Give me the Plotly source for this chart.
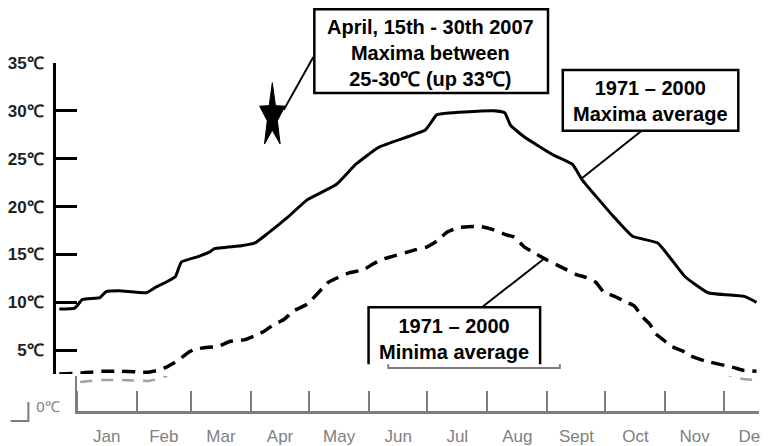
import plotly.graph_objects as go
import math

# ---------------- data ----------------
months = ["Jan", "Feb", "Mar", "Apr", "May", "Jun", "Jul", "Aug", "Sept", "Oct", "Nov", "Dec"]
month_start_day = [0, 31, 59, 90, 120, 151, 181, 212, 243, 273, 304, 334]
month_len = [31, 28, 31, 30, 31, 30, 31, 31, 30, 31, 30, 31]

y_ticks = [5, 10, 15, 20, 25, 30, 35]
y_ticktext = ["5℃", "10℃", "15℃", "20℃", "25℃", "30℃", "35℃"]

# 1971-2000 maxima average (day of year, deg C)
max_day = [-9, -1, 3, 12, 15, 22, 36, 41, 47, 51, 54, 63, 69, 71, 85, 92, 98, 109, 119, 134,
           144, 156, 180, 183, 186, 215, 221, 224, 231, 246, 256, 261, 277, 287, 300, 307, 314,
           326, 345, 351]
max_val = [9.3, 9.4, 10.3, 10.5, 11.1, 11.2, 11.0, 11.6, 12.2, 12.7, 14.2, 14.8, 15.3, 15.6,
           15.9, 16.2, 17.1, 18.9, 20.7, 22.3, 24.4, 26.2, 28.0, 28.8, 29.6, 30.0, 29.8, 28.5,
           27.3, 25.4, 24.4, 22.8, 19.0, 16.9, 16.2, 14.5, 12.7, 11.0, 10.6, 10.0]

# 1971-2000 minima average (day of year, deg C)
min_day = [-9, 2, 13, 22, 37, 42, 46, 52, 58, 61, 68, 73, 79, 87, 92, 97, 102, 107, 112, 119,
           130, 135, 141, 148, 153, 158, 163, 170, 175, 181, 186, 191, 197, 202, 209, 215, 221,
           226, 231, 236, 243, 251, 258, 263, 268, 272, 278, 283, 288, 292, 296, 299, 304, 307,
           313, 317, 324, 339, 344, 351]
min_val = [2.5, 2.6, 2.8, 2.8, 2.7, 2.9, 3.2, 3.9, 4.8, 5.1, 5.3, 5.4, 5.9, 6.1, 6.5, 7.0, 7.7,
           8.2, 9.1, 9.8, 12.1, 12.6, 13.1, 13.4, 14.0, 14.5, 14.8, 15.2, 15.5, 15.8, 16.4, 17.3,
           17.8, 17.9, 17.9, 17.6, 17.1, 16.8, 15.8, 15.2, 14.4, 13.6, 12.9, 12.6, 12.1, 11.1,
           10.6, 10.1, 9.6, 8.5, 7.7, 6.7, 5.9, 5.4, 4.9, 4.4, 3.9, 3.2, 2.9, 2.8]

# April 2007 event marker
star_day = 101
star_val = 29.4

box1_text = "April, 15th - 30th 2007<br>Maxima between<br>25-30℃ (up 33℃)"
box2_text = "1971 – 2000<br>Maxima average"
box3_text = "1971 – 2000<br>Minima average"

# ---------------- layout helpers ----------------
OFF = 8                     # default page body margin
W, H = 769 - OFF, 446 - OFF
ML, MR, MT, MB = 56 - OFF, 0, 63 - OFF, H - (412 - OFF)
PW, PH = W - ML - MR, H - MT - MB
X_RANGE = [-10.7, 352.3]
Y_RANGE = [2.5, 35]
GREY = "#7d7d7d"
FONT = "Liberation Sans, Arial, sans-serif"

def px(x):   # screen pixel -> paper
    return (x - OFF - ML) / PW

def py(y):
    return (H - MB - (y - OFF)) / PH

day_per_px = (X_RANGE[1] - X_RANGE[0]) / PW
deg_per_px = (Y_RANGE[1] - Y_RANGE[0]) / (PH * (1 - py(375)))

fig = go.Figure()

fig.add_trace(go.Scatter(x=max_day, y=max_val, mode="lines",
                         line=dict(color="black", width=3, shape="spline", smoothing=0.4),
                         xaxis="x", yaxis="y", hoverinfo="skip"))
fig.add_trace(go.Scatter(x=min_day, y=min_val, mode="lines",
                         line=dict(color="black", width=3.5, dash="13px,8px",
                                   shape="spline", smoothing=0.4),
                         xaxis="x", yaxis="y", hoverinfo="skip"))
# faded continuation in the lower strip
fig.add_trace(go.Scatter(x=min_day, y=min_val, mode="lines",
                         line=dict(color="#a0a0a0", width=2.5, dash="12px,9px"),
                         xaxis="x2", yaxis="y2", hoverinfo="skip"))

# star polygon (narrow five-pointed star)
sx, sy = [], []
Rx, Ry, inner = 13.5, 34.0, 0.4
for k in range(11):
    ang = math.pi / 2 + k * math.pi / 5
    r = 1.0 if k % 2 == 0 else inner
    sx.append(star_day + r * Rx * math.cos(ang) * day_per_px)
    sy.append(star_val + r * Ry * math.sin(ang) * deg_per_px)
fig.add_trace(go.Scatter(x=sx, y=sy, mode="lines", fill="toself", fillcolor="black",
                         line=dict(color="black", width=1), xaxis="x", yaxis="y",
                         hoverinfo="skip"))

shapes = []
def rect(x0, y0, x1, y1):
    shapes.append(dict(type="rect", xref="paper", yref="paper", x0=px(x0), x1=px(x1),
                       y0=py(y1), y1=py(y0), line=dict(color="black", width=2.5),
                       fillcolor="white", layer="above"))

def path(points, color="black", width=2.0):
    d = "M " + " L ".join(f"{px(a):.5f},{py(b):.5f}" for a, b in points)
    shapes.append(dict(type="path", xref="paper", yref="paper", path=d,
                       line=dict(color=color, width=width)))

rect(318, 9, 555, 93)
rect(570, 70, 748, 131)
path([(373, 365), (373, 308), (547, 308), (547, 365)], width=2.5)
path([(393, 365), (393, 369), (567, 369), (567, 365)], color=GREY, width=2)
path([(287, 110), (317, 57)])
path([(650, 131), (590, 178)])
path([(488, 308), (550, 260)])
path([(10, 422), (28, 422), (28, 403)], color=GREY, width=2)

annotations = [
    dict(x=px(436), y=py(53), text=box1_text),
    dict(x=px(659), y=py(101), text=box2_text),
    dict(x=px(460), y=py(340), text=box3_text),
]
for a in annotations:
    a.update(xref="paper", yref="paper", showarrow=False, xanchor="center", yanchor="middle",
             font=dict(family=FONT, size=20, color="black", weight="bold"), align="center")

mid_days = [s + l / 2 for s, l in zip(month_start_day, month_len)]

fig.update_layout(
    width=W, height=H,
    margin=dict(l=ML, r=MR, t=MT, b=MB),
    paper_bgcolor="white", plot_bgcolor="white",
    showlegend=False,
    shapes=shapes, annotations=annotations,
    xaxis=dict(domain=[0, 1], range=X_RANGE, anchor="y", visible=False, fixedrange=True),
    yaxis=dict(domain=[py(375), 1], range=Y_RANGE, anchor="x",
               showline=True, linecolor="black", linewidth=3,
               tickvals=y_ticks, ticktext=y_ticktext, ticks="inside", ticklen=21,
               tickwidth=3, tickcolor="black", showgrid=False, zeroline=False,
               ticklabelstandoff=6,
               tickfont=dict(family=FONT, size=17, color="#222", weight="bold")),
    xaxis2=dict(domain=[px(77), 1], range=[0, X_RANGE[1]], anchor="y2",
                showline=True, linecolor=GREY, linewidth=2.5,
                tickvals=mid_days, ticktext=months, ticks="", showgrid=False,
                zeroline=False, ticklabeloverflow="allow", ticklabelstandoff=8,
                tickfont=dict(family=FONT, size=17, color="#808080"),
                minor=dict(tickvals=month_start_day, ticks="inside", ticklen=20,
                           tickwidth=2, tickcolor=GREY, showgrid=False)),
    yaxis2=dict(domain=[0, py(377)], range=[-0.4, 3.2], anchor="x2",
                showline=True, linecolor=GREY, linewidth=2,
                tickvals=[0], ticktext=["0℃"], ticks="", showgrid=False, zeroline=False,
                ticklabelstandoff=12,
                tickfont=dict(family=FONT, size=15, color="#808080")),
)

fig.write_html("out.html")
